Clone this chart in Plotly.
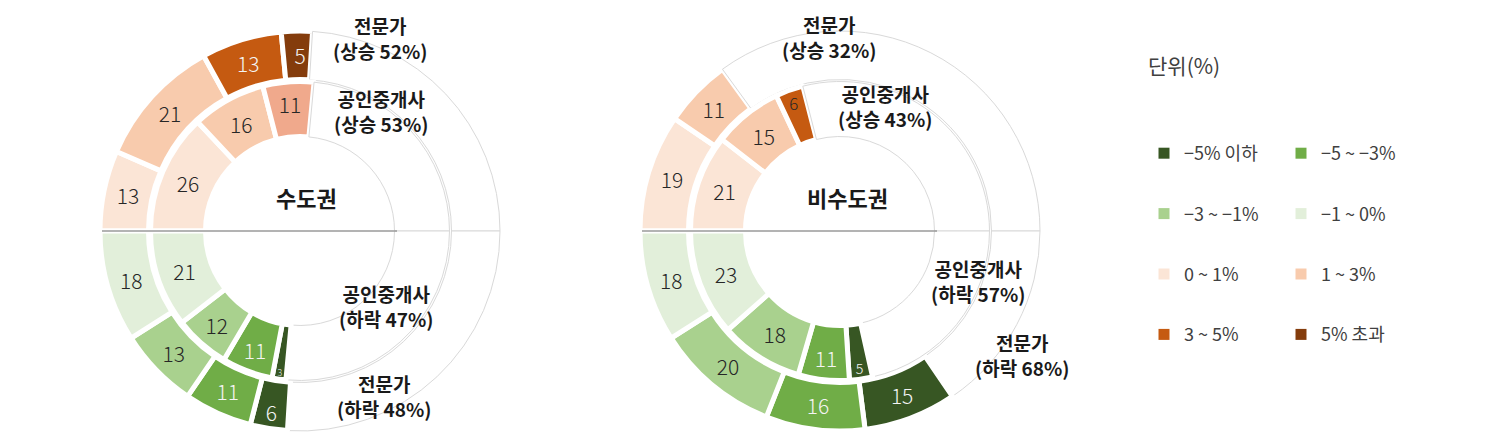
import plotly.graph_objects as go

W, H = 1487, 438
FONT = "Noto Sans CJK KR"

# ---------------- data ----------------
categories = ["−5% 이하", "−5 ~ −3%", "−3 ~ −1%", "−1 ~ 0%", "0 ~ 1%", "1 ~ 3%", "3 ~ 5%", "5% 초과"]
category_colors = ["#375623", "#70AD47", "#A9D18E", "#E2EFDA", "#FBE5D6", "#F8CBAD", "#C55A11", "#843C0C"]

# rise side drawn clockwise from 9 o'clock, fall side drawn clockwise from 3 o'clock
rise_categories = ["0 ~ 1%", "1 ~ 3%", "3 ~ 5%", "5% 초과"]
fall_categories = ["−5% 이하", "−5 ~ −3%", "−3 ~ −1%", "−1 ~ 0%"]

capital_expert_rise = [13, 21, 13, 5]
capital_expert_fall = [6, 11, 13, 18]
capital_agent_rise = [26, 16, 11, 0]
capital_agent_fall = [3, 11, 12, 21]

noncapital_expert_rise = [19, 11, 0, 0]
noncapital_expert_fall = [15, 16, 20, 18]
noncapital_agent_rise = [21, 15, 6, 0]
noncapital_agent_fall = [5, 11, 18, 23]

region_names = ["수도권", "비수도권"]
expert_rise_share = [52, 32]
expert_fall_share = [48, 68]
agent_rise_share = [53, 43]
agent_fall_share = [47, 57]

# ---------------- styles ----------------
color_of = dict(zip(categories, category_colors))
light_text_cats = {"−5% 이하", "−5 ~ −3%", "3 ~ 5%", "5% 초과"}
DARK_TXT = "#262626"
LIGHT_TXT = "#F4F4F4"

# geometry (pixels)
CENTERS_X = [292, 832]
CY = 223
R_OUT, R_OUT_HOLE = 200, 151.5
R_IN, R_IN_HOLE = 149.5, 94.5


def ring(rise, fall, cx, r, r_hole, overrides=None):
    overrides = overrides or {}
    labels, values, fills, texts, tcols, lws, lcs = [], [], [], [], [], [], []

    def add_colored(cat, v):
        fill, tc = overrides.get(cat, (color_of[cat], LIGHT_TXT if cat in light_text_cats else DARK_TXT))
        labels.append(cat); values.append(v); fills.append(fill)
        texts.append(str(v)); tcols.append(tc); lws.append(5); lcs.append("#FFFFFF")

    def add_blank(name, v):
        labels.append(name); values.append(v); fills.append("#FFFFFF")
        texts.append(""); tcols.append(DARK_TXT); lws.append(1); lcs.append("#D9D9D9")

    for cat, v in zip(rise_categories, rise):
        if v > 0:
            add_colored(cat, v)
    add_blank("상승 외", 100 - sum(rise))
    add_blank("하락 외", 100 - sum(fall))
    for cat, v in zip(fall_categories, fall):
        if v > 0:
            add_colored(cat, v)

    return go.Pie(
        labels=labels, values=values, sort=False, direction="clockwise", rotation=-90,
        hole=r_hole / r,
        domain=dict(x=[(cx - r) / W, (cx + r) / W], y=[(H - CY - r) / H, (H - CY + r) / H]),
        marker=dict(colors=fills, line=dict(color=lcs, width=lws)),
        text=texts, textinfo="text", textposition="inside", insidetextorientation="horizontal",
        textfont=dict(family=FONT, size=21, color=tcols, weight=300),
        hoverinfo="skip", showlegend=False,
    )


fig = go.Figure()

# 수도권
fig.add_trace(ring(capital_expert_rise, capital_expert_fall, CENTERS_X[0], R_OUT, R_OUT_HOLE))
fig.add_trace(ring(capital_agent_rise, capital_agent_fall, CENTERS_X[0], R_IN, R_IN_HOLE,
                   overrides={"3 ~ 5%": ("#F0A98C", DARK_TXT)}))
# 비수도권
fig.add_trace(ring(noncapital_expert_rise, noncapital_expert_fall, CENTERS_X[1], R_OUT, R_OUT_HOLE))
fig.add_trace(ring(noncapital_agent_rise, noncapital_agent_fall, CENTERS_X[1], R_IN, R_IN_HOLE,
                   overrides={"3 ~ 5%": (color_of["3 ~ 5%"], DARK_TXT)}))

# legend entries (two columns)
for i, (cat, col) in enumerate(zip(categories, category_colors)):
    fig.add_trace(go.Scatter(
        x=[None], y=[None], mode="markers", name=cat,
        marker=dict(symbol="square", size=11, color=col),
        legend="legend" if i % 2 == 0 else "legend2", legendgroup=cat,
        showlegend=True, hoverinfo="skip",
    ))


def px(x):
    return x / W


def py(y):
    return 1 - y / H


annotations = []
lab_font = dict(family=FONT, size=19, color="#1A1A1A", weight=700)
DY = -8  # vertical correction for CJK font box
label_pos = [
    # (expert rise, agent rise, agent fall, expert fall)
    [(372, 38), (373, 111), (378, 306), (376, 396)],
    [(821, 37), (877, 106), (970, 281), (1014, 355)],
]
for k in range(2):
    pos = label_pos[k]
    texts = [
        f"전문가<br>(상승 {expert_rise_share[k]}%)",
        f"공인중개사<br>(상승 {agent_rise_share[k]}%)",
        f"공인중개사<br>(하락 {agent_fall_share[k]}%)",
        f"전문가<br>(하락 {expert_fall_share[k]}%)",
    ]
    for (x, y), t in zip(pos, texts):
        annotations.append(dict(x=px(x), y=py(y + DY), xref="paper", yref="paper", text=t,
                                showarrow=False, xanchor="center", yanchor="middle",
                                font=lab_font, align="center"))

center_label_x = [298, 839]
for k in range(2):
    annotations.append(dict(x=px(center_label_x[k]), y=py(197 + DY), xref="paper", yref="paper",
                            text=region_names[k], showarrow=False, xanchor="center", yanchor="middle",
                            font=dict(family=FONT, size=22, color="#1A1A1A", weight=700)))

annotations.append(dict(x=px(1138), y=py(65 + DY), xref="paper", yref="paper", text="단위(%)",
                        showarrow=False, xanchor="left", yanchor="middle",
                        font=dict(family=FONT, size=21, color="#404040")))

shapes = []
for cx in CENTERS_X:
    shapes.append(dict(type="line", xref="paper", yref="paper",
                       x0=px(cx - 198), x1=px(cx + 97), y0=py(CY), y1=py(CY),
                       line=dict(color="#9A9A9A", width=1.5), layer="above"))
shapes.append(dict(type="line", xref="paper", yref="paper", x0=0, x1=1, y0=py(433), y1=py(433),
                   line=dict(color="#E2E2E2", width=1, dash="dot"), layer="below"))

legend_common = dict(
    xanchor="left", yanchor="top", y=py(127), orientation="v",
    tracegroupgap=34, font=dict(family=FONT, size=18, color="#404040"),
    bgcolor="rgba(0,0,0,0)", borderwidth=0, itemclick=False, itemdoubleclick=False,
)

fig.update_layout(
    width=W, height=H,
    margin=dict(l=0, r=0, t=0, b=0),
    paper_bgcolor="white", plot_bgcolor="white",
    xaxis=dict(visible=False), yaxis=dict(visible=False),
    legend=dict(x=px(1136), **legend_common),
    legend2=dict(x=px(1273), **legend_common),
    annotations=annotations, shapes=shapes,
    font=dict(family=FONT),
)

fig.write_html("out.html")
